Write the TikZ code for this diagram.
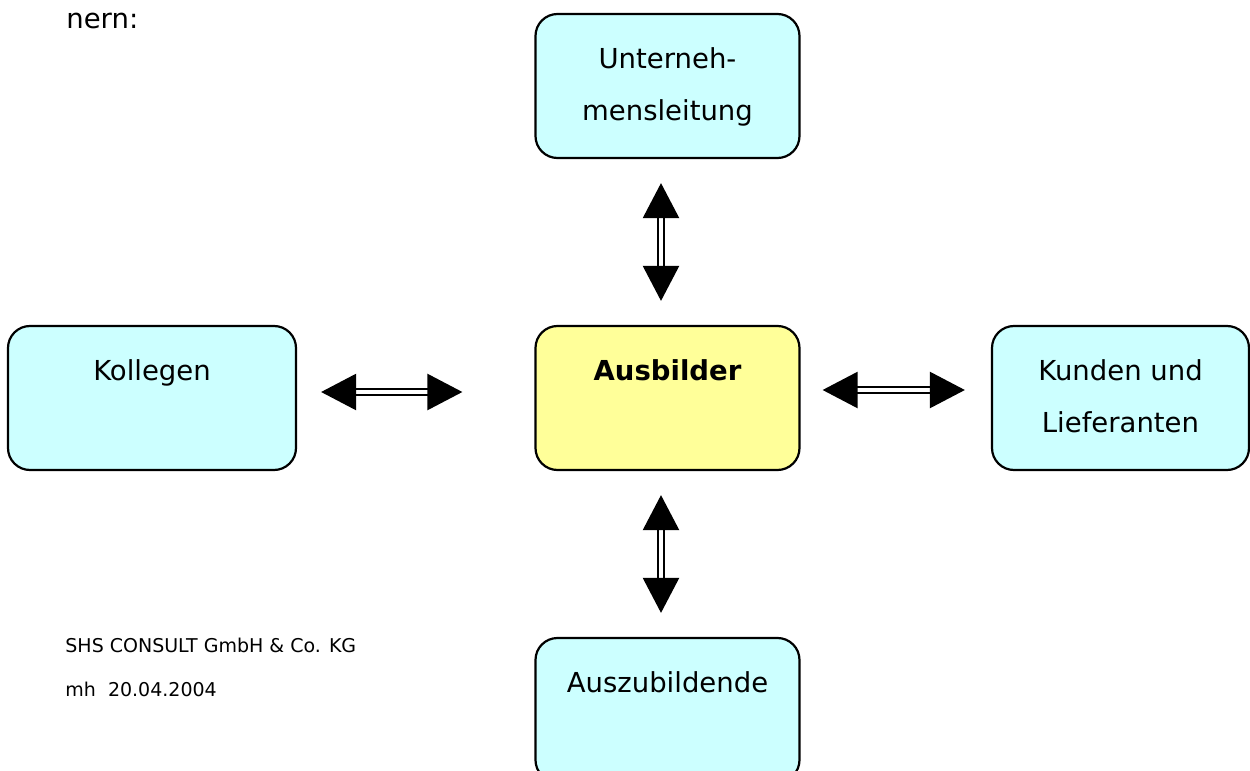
\documentclass[tikz,border=0pt]{standalone}
\usepackage{fontspec}
\setmainfont{DejaVu Sans}
\usetikzlibrary{arrows.meta}
\definecolor{boxcyan}{HTML}{CCFFFF}
\definecolor{boxyellow}{HTML}{FFFF99}
\newcommand{\bxstrut}{\rule[-7pt]{0pt}{22pt}}
\tikzset{
    role box/.style={draw, line width=1.1pt, rounded corners=11pt, fill=boxcyan,
        minimum width=132pt, minimum height=72pt, inner sep=0pt, align=center,
        font=\fontsize{13.75pt}{26pt}\selectfont},
    trainer box/.style={role box, fill=boxyellow,
        font=\fontsize{13.75pt}{26pt}\selectfont\bfseries},
    relation/.style={double, line width=1.2pt, double distance=1.6pt,
        {Triangle[length=17.5pt,width=18pt]}-{Triangle[length=17.5pt,width=18pt]}},
    plain text/.style={anchor=base west, inner sep=0pt},
}
\begin{document}
\begin{tikzpicture}[x=0.5pt,y=-0.5pt]
    \clip (0,0) rectangle (1250,771);

    \node[plain text, font=\fontsize{13.75pt}{26pt}\selectfont] (intro) at (66,28) {nern:};

    \node[role box] (chef) at (667.5,86) {\bxstrut Unterneh-\\\bxstrut mensleitung};
    \node[trainer box] (ausb) at (667.5,398) {\bxstrut Ausbilder\\\bxstrut};
    \node[role box, minimum width=144pt] (koll) at (152,398) {\bxstrut Kollegen\\\bxstrut};
    \node[role box, minimum width=128.5pt] (kund) at (1120.5,398) {\bxstrut Kunden und\\\bxstrut Lieferanten};
    \node[role box] (azubi) at (667.5,710) {\bxstrut Auszubildende\\\bxstrut};

    % Beziehungen
    \draw[relation, shorten <=12pt, shorten >=12pt] ([xshift=-3.25pt]chef.south) -- ([xshift=-3.25pt]ausb.north);
    \draw[relation, shorten <=12pt, shorten >=36pt] ([yshift=3pt]koll.east) -- ([yshift=3pt]ausb.west);
    \draw[relation, shorten <=11pt, shorten >=13pt] ([yshift=4pt]ausb.east) -- ([yshift=4pt]kund.west);
    \draw[relation, shorten <=12pt, shorten >=12pt] ([xshift=-3.25pt]ausb.south) -- ([xshift=-3.25pt]azubi.north);

    \node[plain text, font=\fontsize{9.5pt}{11pt}\selectfont] (firma) at (65,652) {SHS CONSULT GmbH \& Co. KG};
    \node[plain text, font=\fontsize{9.5pt}{11pt}\selectfont] (datum) at (65,696) {mh~~20.04.2004};
\end{tikzpicture}
\end{document}
